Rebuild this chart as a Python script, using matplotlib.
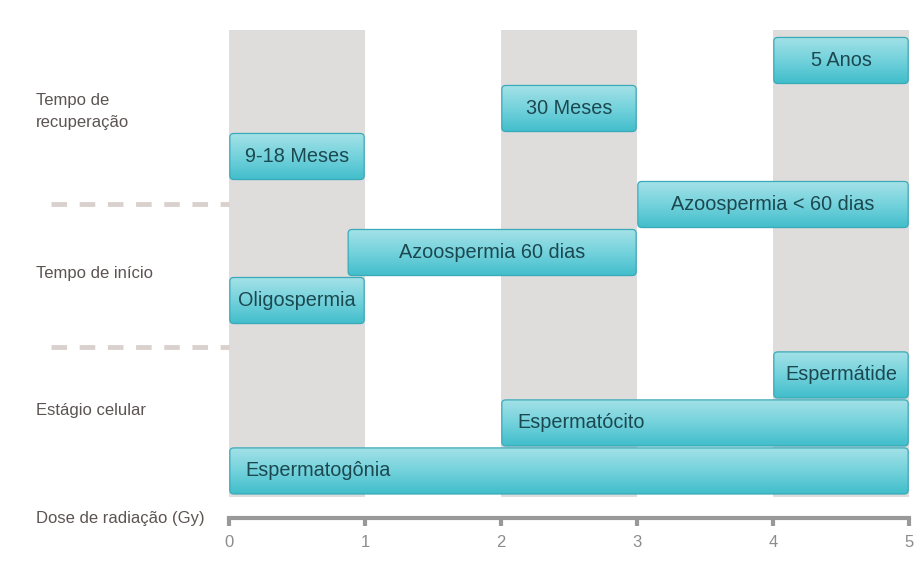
import numpy as np
import matplotlib
matplotlib.use("Agg")
import matplotlib.pyplot as plt
from matplotlib.patches import FancyBboxPatch
from matplotlib.colors import LinearSegmentedColormap

plt.rcParams['font.family'] = ['Liberation Sans', 'DejaVu Sans']

# dose ranges (Gy) for each effect, grouped by row
bar_labels = ["Espermatogônia", "Espermatócito", "Espermátide",
              "Oligospermia", "Azoospermia 60 dias", "Azoospermia < 60 dias",
              "9-18 Meses", "30 Meses", "5 Anos"]
bar_start = [0, 2, 4, 0, 0.87, 3, 0, 2, 4]
bar_end = [5, 5, 5, 1, 3, 5, 1, 3, 5]
bar_row = [0, 1, 2, 3, 4, 5, 6, 7, 8]
left_align = [True, True, False, False, False, False, False, False, False]

group_labels = ["Estágio celular", "Tempo de início", "Tempo de\nrecuperação"]
group_y = [1.75, 4.62, 7.98]
shaded = [(0, 1), (2, 3), (4, 5)]
ticks = [0, 1, 2, 3, 4, 5]

row_gap = 0.55  # vertical offset between the cell-stage rows and the rest
bar_h = 1.0

fig = plt.figure(figsize=(9.23, 5.63), dpi=100)
fig.patch.set_facecolor("white")
ax = fig.add_axes([229 / 923, 45 / 563, 680 / 923, 518 / 563])
ax.set_xlim(0, 5)
ax.set_ylim(-0.48, 10.31)

for a, b in shaded:
    ax.axvspan(a, b, ymin=0.041, ymax=0.942, color="#dfdddc", lw=0, zorder=0)

cmap = LinearSegmentedColormap.from_list("teal", ["#a6e2e8", "#74d2dc", "#3fbdca"])
grad = np.linspace(0, 1, 64).reshape(-1, 1)

for lab, x0, x1, r, la in zip(bar_labels, bar_start, bar_end, bar_row, left_align):
    y0 = r + (row_gap if r >= 3 else 0)
    patch = FancyBboxPatch((x0 + 0.006, y0 + 0.02), x1 - x0 - 0.012, bar_h - 0.04,
                           boxstyle="round,pad=0,rounding_size=0.03",
                           mutation_aspect=2.6,
                           fc="none", ec="#3aaab8", lw=0.9, zorder=3)
    ax.add_patch(patch)
    im = ax.imshow(grad, cmap=cmap, aspect="auto", extent=(x0, x1, y0, y0 + bar_h),
                   origin="upper", zorder=2, interpolation="bilinear")
    im.set_clip_path(patch)
    if la:
        ax.text(x0 + 0.12, y0 + bar_h / 2, lab, ha="left", va="center",
                fontsize=14.3, color="#1c4850", zorder=4)
    else:
        ax.text((x0 + x1) / 2, y0 + bar_h / 2, lab, ha="center", va="center",
                fontsize=14.3, color="#1c4850", zorder=4)

# group labels on the left
for lab, gy in zip(group_labels, group_y):
    ax.text(-1.42, gy, lab, ha="left", va="center", fontsize=12,
            color="#5c5452", linespacing=1.6, clip_on=False)
ax.text(-1.42, -0.48, "Dose de radiação (Gy)", ha="left", va="center",
        fontsize=12, color="#5c5452", clip_on=False)

# dashed separators between groups
for sy in [3.08, 6.06]:
    ax.plot([-1.31, 0], [sy, sy], ls=(0, (3.2, 2.6)), color="#d9d1cd", lw=3.5,
            clip_on=False, solid_capstyle="butt", dash_capstyle="butt")

for s in ["top", "right", "left"]:
    ax.spines[s].set_visible(False)
ax.spines["bottom"].set_color("#999999")
ax.spines["bottom"].set_linewidth(3)
ax.set_yticks([])
ax.set_xticks(ticks)
ax.tick_params(axis="x", direction="out", length=6, width=3, color="#999999",
               labelsize=12, labelcolor="#8c8c8c", pad=6)
ax.set_facecolor("none")

fig.savefig("out.png", dpi=100, facecolor="white")
